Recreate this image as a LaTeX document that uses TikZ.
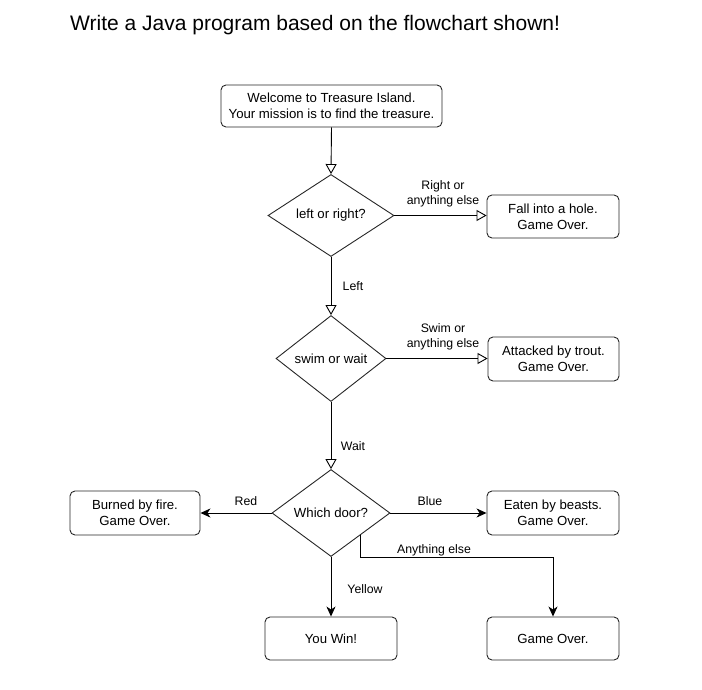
\documentclass[tikz,border=0pt]{standalone}
\usepackage{fontspec}
\setmainfont{Liberation Sans}
\usetikzlibrary{shapes.geometric,arrows.meta,calc}
\begin{document}
\begin{tikzpicture}[x=1pt,y=-1pt,
  box/.style={draw=black!85, rounded corners=5pt, line width=0.9pt, align=center, inner sep=0pt, font=\fontsize{13.2}{16}\selectfont},
  dec/.style={draw=black!85, diamond, line width=0.9pt, inner sep=0pt, align=center, font=\fontsize{13.2}{16}\selectfont},
  lbl/.style={align=center, inner sep=0pt, font=\fontsize{12.3}{15.3}\selectfont},
  oarr/.style={draw, line width=0.9pt, -{Triangle[open, length=10pt, width=11pt]}},
  farr/.style={draw, line width=0.9pt, -{Stealth[length=10pt, width=9pt, inset=3pt]}}
]
\useasboundingbox (0,0) rectangle (702,690);
\node[anchor=west, inner sep=0pt, font=\fontsize{21}{25}\selectfont] (title) at (70,25) {Write a Java program based on the flowchart shown!};

\node[box, minimum width=221pt, minimum height=42pt] (start) at (331.5,106) {Welcome to Treasure Island.\\Your mission is to find the treasure.};
\node[dec, minimum width=126pt, minimum height=75pt] (d1) at (331,215.5) {left or right?};
\node[box, minimum width=132pt, minimum height=43pt] (fall) at (553,216.5) {Fall into a hole.\\Game Over.};
\node[dec, minimum width=110pt, minimum height=86pt] (d2) at (331,358.5) {swim or wait};
\node[box, minimum width=131pt, minimum height=44pt] (trout) at (553.5,359) {Attacked by trout.\\Game Over.};
\node[dec, minimum width=118pt, minimum height=87pt] (d3) at (331,513) {Which door?};
\node[box, minimum width=130pt, minimum height=44pt] (burn) at (135,513) {Burned by fire.\\Game Over.};
\node[box, minimum width=132pt, minimum height=44pt] (beast) at (553,513) {Eaten by beasts.\\Game Over.};
\node[box, minimum width=132pt, minimum height=43pt] (win) at (331,638.5) {You Win!};
\node[box, minimum width=132pt, minimum height=43pt] (over) at (553,638.5) {Game Over.};

\draw[oarr] (start.south) -- (d1.north);
\draw[oarr] (d1.east) -- (d1.east -| fall.west);
\draw[oarr] (d1.south) -- (d2.north);
\draw[oarr] (d2.east) -- (d2.east -| trout.west);
\draw[oarr] (d2.south) -- (d3.north);
\draw[farr] (d3.west) -- (burn.east);
\draw[farr] (d3.east) -- (beast.west);
\draw[farr] (d3.south) -- (win.north);
\coordinate (dse) at ($(d3.south)!0.5!(d3.east)$);
\draw[farr] (dse) -- (dse |- 0,557) -| (over.north);

\node[lbl] (l1) at (443,194) {Right or\\anything else};
\node[lbl] (l2) at (353,286) {Left};
\node[lbl] (l3) at (443,337) {Swim or\\anything else};
\node[lbl] (l4) at (353,446) {Wait};
\node[lbl] (l5) at (246,501) {Red};
\node[lbl] (l6) at (430,501) {Blue};
\node[lbl] (l7) at (365,589) {Yellow};
\node[lbl] (l8) at (434,550) {Anything else};
\end{tikzpicture}
\end{document}
